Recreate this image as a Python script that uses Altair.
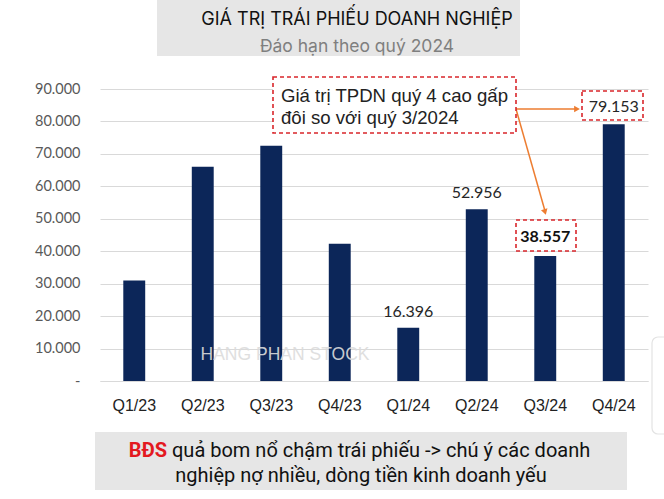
import altair as alt
import pandas as pd

# ---- data ----
quarters = ["Q1/23", "Q2/23", "Q3/23", "Q4/23", "Q1/24", "Q2/24", "Q3/24", "Q4/24"]
values = [31000, 66000, 72500, 42300, 16396, 52956, 38557, 79153]
labelled = ["", "", "", "", "16.396", "52.956", "", ""]
q4_labelled = ["", "", "", "", "", "", "", "79.153"]
bold_labelled = ["", "", "", "", "", "", "38.557", ""]
y_ticks = [0, 10000, 20000, 30000, 40000, 50000, 60000, 70000, 80000, 90000]

title_text = "GIÁ TRỊ TRÁI PHIẾU DOANH NGHIỆP"
subtitle_text = "Đáo hạn theo quý 2024"
note_lines = ["Giá trị TPDN quý 4 cao gấp", "đôi so với quý 3/2024"]
footer_red = "BĐS"
footer_line1 = "quả bom nổ chậm trái phiếu -> chú ý các doanh"
footer_line2 = "nghiệp nợ nhiều, dòng tiền kinh doanh yếu"
watermark = "HANG PHAN STOCK"

df = pd.DataFrame({"q": quarters, "v": values, "lab": labelled,
                   "q4lab": q4_labelled, "blab": bold_labelled})
one = pd.DataFrame({"a": [0]})

NAVY = "#0c2659"
RED = "#d9262b"
ORANGE = "#ed7d31"

x_enc = alt.X("q:N", sort=quarters,
              scale=alt.Scale(paddingInner=0.68, paddingOuter=0.34),
              axis=alt.Axis(title=None, labelAngle=0, ticks=False, tickSize=0,
                            labelPadding=16, labelFont="Liberation Sans",
                            labelFontSize=16, labelColor="#222222",
                            domainColor="#d9d9d9", domainWidth=1.2))
y_enc = alt.Y("v:Q", scale=alt.Scale(domain=[0, 90000], nice=False),
              axis=alt.Axis(title=None, values=y_ticks, labelOverlap=False,
                            labelExpr="datum.value == 0 ? '-' : replace(format(datum.value, ',.0f'), ',', '.')",
                            ticks=False, tickSize=0, domain=False, labelPadding=20,
                            labelFont="Lato", labelFontSize=14.5, labelColor="#595959",
                            gridColor="#d9d9d9", gridWidth=1.2))

bars = alt.Chart(df).mark_bar(color=NAVY).encode(x=x_enc, y=y_enc)

labels = alt.Chart(df).mark_text(dy=-16, font="Lato", fontSize=16, color="#262626").encode(
    x=x_enc, y=y_enc, text="lab:N")
q4label = alt.Chart(df).mark_text(dy=-17, font="Lato", fontSize=16, color="#262626").encode(
    x=x_enc, y=y_enc, text="q4lab:N")
blabels = alt.Chart(df).mark_text(dy=-19, font="Lato", fontSize=16, fontWeight="bold",
                                  color="#111111").encode(
    x=x_enc, y=y_enc, text="blab:N")

def rect(x, x2, y, y2, **kw):
    return alt.Chart(one).mark_rect(**kw).encode(
        x=alt.value(x), x2=alt.value(x2), y=alt.value(y), y2=alt.value(y2))

def txt(s, x, y, **kw):
    return alt.Chart(one).mark_text(**kw).encode(
        x=alt.value(x), y=alt.value(y), text=alt.value(s))

title_box = rect(57, 420, -89, -33, color="#e6e6e6")
title = txt(title_text, 257, -64, font="Inter", fontSize=18, color="#111111", baseline="alphabetic")
subtitle = txt(subtitle_text, 257, -37, font="Inter", fontSize=17.5, color="#7f7f7f", baseline="alphabetic")

footer_box = rect(-5, 527, 343, 401, color="#e6e6e6")
f_red = txt(footer_red, 67, 368, font="Roboto", fontSize=20, fontWeight="bold", color="#e3191f",
            align="right", baseline="alphabetic")
f_l1 = txt(footer_line1, 72, 368, font="Roboto", fontSize=20, color="#111111",
           align="left", baseline="alphabetic")
f_l2 = txt(footer_line2, 261, 393, font="Roboto", fontSize=20, color="#111111",
           align="center", baseline="alphabetic")

wm = txt(watermark, 185, 266, font="Liberation Sans", fontSize=17.5, color="#dcdcdc", opacity=0.9)

dash = dict(fill="white", stroke=RED, strokeDash=[4, 3], strokeWidth=1.6)
note_box = rect(173, 416, -12, 44, **dash)
note1 = txt(note_lines[0], 181, 13, font="Liberation Sans", fontSize=18.6, color="#222222",
            align="left", baseline="alphabetic")
note2 = txt(note_lines[1], 181, 35, font="Liberation Sans", fontSize=18.6, color="#222222",
            align="left", baseline="alphabetic")

box_q4 = rect(482, 543, 2, 31, **dash)
box_q3 = rect(416, 476, 131, 162, **dash)

arrow_h = alt.Chart(one).mark_rule(color=ORANGE, strokeWidth=1.5).encode(
    x=alt.value(416), x2=alt.value(476), y=alt.value(20), y2=alt.value(20))
arrow_d = alt.Chart(one).mark_rule(color=ORANGE, strokeWidth=1.5).encode(
    x=alt.value(416), x2=alt.value(445), y=alt.value(20), y2=alt.value(122))
head_h = alt.Chart(one).mark_point(shape="triangle-right", filled=True, size=45,
                                   color=ORANGE, opacity=1).encode(
    x=alt.value(477), y=alt.value(20))
head_d = alt.Chart(one).mark_point(shape="triangle-up", filled=True, size=45, angle=164,
                                   color=ORANGE, opacity=1).encode(
    x=alt.value(445), y=alt.value(123))

edge = rect(552, 590, 248, 345, fill="white", stroke="#e3e3e3", strokeWidth=1.2, cornerRadius=6)

chart = alt.layer(
    bars, edge, wm, labels, title_box, title, subtitle, footer_box, f_red, f_l1, f_l2,
    arrow_h, arrow_d, head_h, head_d, note_box, note1, note2, box_q4, box_q3, blabels, q4label,
).properties(
    width=548, height=292,
    padding={"left": 100, "top": 89, "right": 16, "bottom": 118},
    autosize=alt.AutoSizeParams(type="none"),
    background="white",
).configure_view(stroke=None)

chart.save("out.html", embed_options={"renderer": "svg", "actions": False})
